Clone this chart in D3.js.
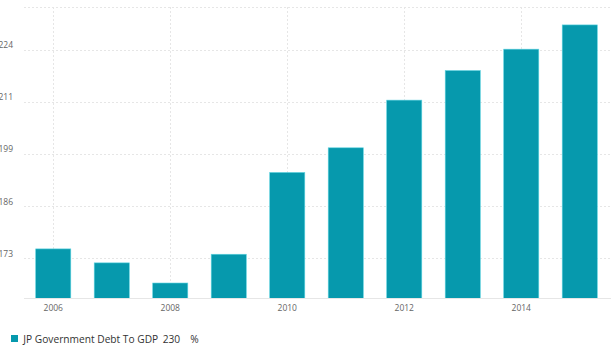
<!DOCTYPE html>
<html>
<head>
<meta charset="utf-8">
<script src="https://cdn.jsdelivr.net/npm/d3@7"></script>
<style>
  html, body { margin: 0; padding: 0; background: #fff; }
  svg { display: block; font-family: "Open Sans", sans-serif; }
</style>
</head>
<body>
<svg id="chart" width="616" height="346"></svg>
<script>
// Japan government debt to GDP (%), yearly
const years = ["2006", "2007", "2008", "2009", "2010", "2011", "2012", "2013", "2014", "2015"];
const debtToGdp = [175.5, 172.1, 167.2, 174.2, 194.1, 200.1, 211.7, 218.9, 224.1, 230];
const yTicks = [173.2, 185.9, 198.6, 211.3, 224.0];
const xTickLabels = ["2006", "2008", "2010", "2012", "2014"];
const seriesName = "JP Government Debt To GDP";
const latestValue = "230";
const unit = "%";

(function draw() {
  const svg = d3.select("#chart");
  const plotLeft = 24, plotRight = 609, plotTop = 7, plotBottom = 298.5;
  const barColor = "#0699ad";

  const x = d3.scaleBand().domain(years).range([plotLeft, plotRight]).paddingInner(0.4).paddingOuter(0.2);
  const y = d3.scaleLinear().domain([163.43, 234.36]).range([plotBottom, plotTop]);

  // horizontal grid
  svg.append("g")
    .selectAll("line")
    .data(yTicks.concat([y.domain()[1]]))
    .join("line")
    .attr("x1", plotLeft).attr("x2", plotRight + 2)
    .attr("y1", d => Math.round(y(d)) + 0.5).attr("y2", d => Math.round(y(d)) + 0.5)
    .attr("stroke", "#e6e6e6").attr("stroke-dasharray", "2,2");

  // vertical grid at labelled years
  svg.append("g")
    .selectAll("line")
    .data(xTickLabels)
    .join("line")
    .attr("x1", d => Math.round(x(d) + x.bandwidth() / 2) + 0.5)
    .attr("x2", d => Math.round(x(d) + x.bandwidth() / 2) + 0.5)
    .attr("y1", plotTop).attr("y2", plotBottom)
    .attr("stroke", "#e6e6e6").attr("stroke-dasharray", "2,2");

  // bars
  svg.append("g")
    .selectAll("rect")
    .data(years.map((yr, i) => ({ yr, v: debtToGdp[i] })))
    .join("rect")
    .attr("x", d => x(d.yr))
    .attr("width", x.bandwidth())
    .attr("y", d => y(d.v))
    .attr("height", d => plotBottom - y(d.v))
    .attr("fill", barColor)
    .attr("stroke", "#5fd3e0")
    .attr("stroke-width", 0.6);

  // baseline
  svg.append("line")
    .attr("x1", plotLeft).attr("x2", plotRight + 2)
    .attr("y1", plotBottom).attr("y2", plotBottom)
    .attr("stroke", "#e6e6e6");

  // y axis labels
  const yAxis = d3.axisLeft(y).tickValues(yTicks).tickSize(0).tickFormat(d3.format(".0f"));
  const yg = svg.append("g").attr("transform", "translate(13,0)").call(yAxis);
  yg.select(".domain").remove();
  yg.selectAll("text")
    .attr("x", 0).attr("dy", "-0.25em")
    .attr("fill", "#666").style("font-size", "8.5px").style("font-family", "Open Sans, sans-serif");

  // x axis labels
  const xAxis = d3.axisBottom(x).tickValues(xTickLabels).tickSize(0);
  const xg = svg.append("g").attr("transform", `translate(0,${plotBottom})`).call(xAxis);
  xg.select(".domain").remove();
  xg.selectAll("text")
    .attr("y", 6).attr("dy", "0.71em")
    .attr("fill", "#666").style("font-size", "8.5px").style("font-family", "Open Sans, sans-serif");

  // legend
  const lg = svg.append("g").attr("transform", "translate(11,335)");
  lg.append("rect").attr("width", 7).attr("height", 7).attr("fill", barColor);
  lg.append("text").attr("x", 12.3).attr("y", 7.5)
    .attr("fill", "#333").style("font-size", "10.2px").text(seriesName);
  lg.append("text").attr("x", 151.7).attr("y", 7.5)
    .attr("fill", "#333").style("font-size", "10.2px").text(latestValue);
  lg.append("text").attr("x", 179.3).attr("y", 7.5)
    .attr("fill", "#333").style("font-size", "10.2px").text(unit);
})();
</script>
</body>
</html>
